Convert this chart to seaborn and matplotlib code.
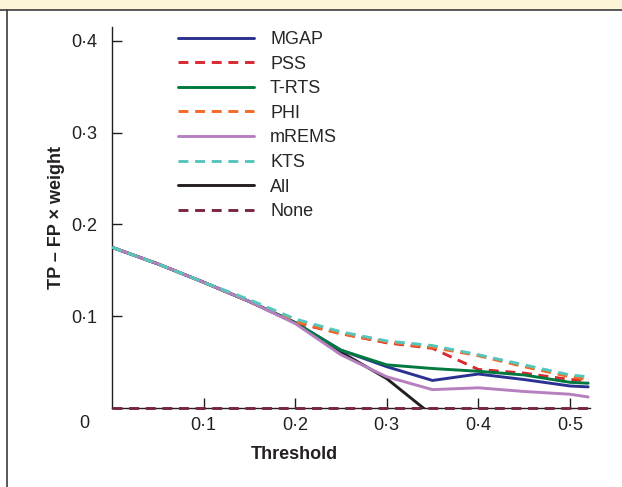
import matplotlib
matplotlib.use("Agg")
import matplotlib.pyplot as plt
from matplotlib.lines import Line2D
from matplotlib.patches import Rectangle
import seaborn as sns
import numpy as np

# thresholds and net benefit curves
threshold = [0.0, 0.05, 0.10, 0.15, 0.20, 0.25, 0.30, 0.35, 0.40, 0.45, 0.50, 0.52]
mgap  = [0.175, 0.157, 0.137, 0.116, 0.093, 0.063, 0.045, 0.030, 0.037, 0.031, 0.024, 0.023]
pss   = [0.175, 0.157, 0.137, 0.116, 0.093, 0.081, 0.071, 0.065, 0.042, 0.038, 0.031, 0.030]
trts  = [0.175, 0.157, 0.137, 0.116, 0.093, 0.063, 0.047, 0.043, 0.040, 0.036, 0.028, 0.027]
phi   = [0.175, 0.157, 0.137, 0.116, 0.094, 0.081, 0.072, 0.066, 0.057, 0.045, 0.034, 0.031]
mrems = [0.175, 0.157, 0.137, 0.116, 0.092, 0.058, 0.034, 0.020, 0.022, 0.018, 0.015, 0.012]
kts   = [0.175, 0.157, 0.137, 0.118, 0.097, 0.083, 0.073, 0.068, 0.058, 0.047, 0.036, 0.034]
all_  = [0.175, 0.157, 0.137, 0.116, 0.093, 0.061, 0.032, -0.008, -0.050, -0.095, -0.140, -0.160]
none_ = [0.0] * len(threshold)

names = ["MGAP", "PSS", "T-RTS", "PHI", "mREMS", "KTS", "All", "None"]
series = [mgap, pss, trts, phi, mrems, kts, all_, none_]
colors = ["#2b3190", "#d9282f", "#00793f", "#f36a24", "#b67fc0", "#56c5bd", "#231f20", "#7a2546"]
dashed = [False, True, False, True, False, True, False, True]
zorders = [2.1, 2.2, 2.3, 2.4, 2.5, 2.6, 2.0, 3.0]

sns.set_style("ticks")
plt.rcParams['font.family'] = ['Liberation Sans', 'DejaVu Sans']
plt.rcParams['font.size'] = 13

fig = plt.figure(figsize=(6.22, 4.87), dpi=100)
W, H = 622, 487
ax = fig.add_axes([112 / W, 1 - 408 / H, (590 - 112) / W, (408 - 27) / H])

for name, vals, col, dsh, z in zip(names, series, colors, dashed, zorders):
    ls = (0, (3.4, 2.3)) if dsh else "-"
    sns.lineplot(x=threshold, y=vals, color=col, linestyle=ls, linewidth=2.1,
                 label=name, ax=ax, legend=False, zorder=z)

# the "None" reference line sits on the x axis, keep it fully visible
none_line = [ln for ln in ax.lines if ln.get_label() == "None"][0]
none_line.set_clip_on(False)

ax.set_xlim(0, 0.522)
ax.set_ylim(0, 0.415)
ax.set_xticks([0.1, 0.2, 0.3, 0.4, 0.5])
ax.set_xticklabels([f"0·{i}" for i in range(1, 6)])
ax.set_yticks([0.1, 0.2, 0.3, 0.4])
ax.set_yticklabels([f"0·{i}" for i in range(1, 5)])
ax.tick_params(axis="both", direction="in", length=7.5, width=1, colors="#231f20",
               labelsize=13, labelcolor="#231f20")
ax.tick_params(axis="x", pad=6.5)
ax.tick_params(axis="y", pad=10.5)
for s in ["top", "right"]:
    ax.spines[s].set_visible(False)
for s in ["left", "bottom"]:
    ax.spines[s].set_color("#231f20")
    ax.spines[s].set_linewidth(1)

ax.set_xlabel("Threshold", fontweight="bold", fontsize=13, color="#231f20")
ax.xaxis.set_label_coords((294 - 112) / (590 - 112), -0.100)
ax.set_ylabel("TP – FP × weight", fontweight="bold", fontsize=13, color="#231f20")
ax.yaxis.set_label_coords((65 - 112) / (590 - 112), 0.5)

# shared origin label
fig.text(84 / W, 1 - 423 / H, "0", ha="center", va="center", fontsize=13, color="#231f20")

ax.legend(loc="upper left", bbox_to_anchor=(178 / W, 1 - 31 / H), bbox_transform=fig.transFigure,
          frameon=False, fontsize=13, handlelength=4.2, handletextpad=0.9,
          labelspacing=0.42, borderpad=0, borderaxespad=0)

# header band and left border
fig.patches.append(Rectangle((0, 1 - 9 / H), 1, 9 / H, transform=fig.transFigure,
                             facecolor="#fcf6d6", edgecolor="none", zorder=0))
fig.lines.append(Line2D([0, 1], [1 - 9.5 / H, 1 - 9.5 / H], transform=fig.transFigure,
                        color="#3c3c3c", linewidth=1.2))
fig.lines.append(Line2D([7.5 / W, 7.5 / W], [0, 1 - 9.5 / H], transform=fig.transFigure,
                        color="#3c3c3c", linewidth=1.2))

fig.savefig("out.png", dpi=100)
plt.close(fig)
